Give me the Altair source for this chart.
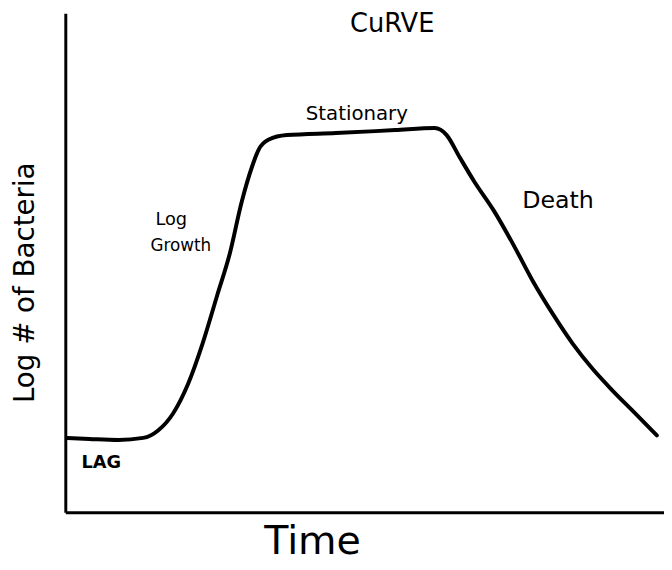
import altair as alt
import pandas as pd

time = [0.3, 4.0, 8.9, 13.0, 15.5, 18.0, 20.5, 22.9, 25.4, 27.4, 29.5, 31.2, 32.3, 34.0,
        37.0, 45.2, 55.1, 61.7, 63.7, 65.8, 68.3, 71.6, 74.9, 78.2, 81.5, 84.8, 88.1,
        91.4, 94.7, 98.8]
log_count = [14.9, 14.7, 14.5, 14.9, 16.4, 19.8, 25.7, 33.7, 43.6, 51.5, 62.4, 69.3, 72.7,
             74.7, 75.6, 76.0, 76.6, 77.0, 75.6, 71.3, 66.3, 60.4, 53.5, 46.1, 39.6, 33.7,
             28.7, 24.4, 20.4, 15.4]

label_text = ["CuRVE", "Stationary", "Log", "Growth", "Death", "LAG", "Time", "Log # of Bacteria"]
label_x = [54.6, 48.7, 17.7, 19.3, 82.3, 6.0, 41.3, -6.6]
label_y = [97.8, 79.8, 58.6, 53.3, 62.4, 9.9, -5.9, 46.0]
label_size = [26, 20, 18, 17, 24, 18, 40, 28]
label_weight = ["normal", "normal", "normal", "normal", "normal", "bold", "normal", "normal"]
label_angle = [0, 0, 0, 0, 0, 0, 0, 270]

curve = pd.DataFrame({"t": time, "n": log_count})

xs = alt.Scale(domain=[0, 100], nice=False, zero=False)
ys = alt.Scale(domain=[0, 100], nice=False, zero=False)

line = alt.Chart(curve).mark_line(color="black", strokeWidth=4, interpolate="monotone",
                                  strokeCap="round").encode(
    x=alt.X("t:Q", scale=xs,
            axis=alt.Axis(title="", labels=False, ticks=False,
                          grid=False, domainColor="black", domainWidth=3)),
    y=alt.Y("n:Q", scale=ys,
            axis=alt.Axis(title="", labels=False, ticks=False,
                          grid=False, domainColor="black", domainWidth=3)),
)

layers = [line]
for i in range(len(label_text)):
    df = pd.DataFrame({"text": [label_text[i]], "x": [label_x[i]], "y": [label_y[i]]})
    layers.append(
        alt.Chart(df).mark_text(
            color="black", font="DejaVu Sans", fontSize=label_size[i],
            fontWeight=label_weight[i], angle=label_angle[i],
            baseline="middle", align="center",
        ).encode(
            x=alt.X("x:Q", scale=xs),
            y=alt.Y("y:Q", scale=ys),
            text="text:N",
        )
    )

chart = alt.layer(*layers).properties(
    width=606, height=505,
    autosize=alt.AutoSizeParams(type="none"),
    padding={"left": 58, "top": 2, "right": 0, "bottom": 52},
    background="white",
).configure_view(stroke=None)

chart.save("out.html", embed_options={"renderer": "svg", "actions": False})
